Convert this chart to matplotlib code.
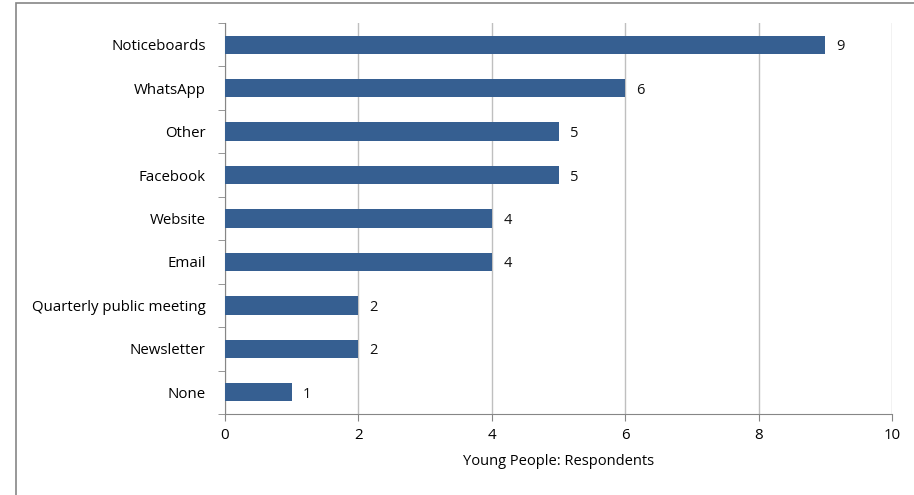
import matplotlib.pyplot as plt
import numpy as np
from matplotlib.patches import Rectangle

categories = ['Noticeboards', 'WhatsApp', 'Other', 'Facebook', 'Website',
              'Email', 'Quarterly public meeting', 'Newsletter', 'None']
values = [9, 6, 5, 5, 4, 4, 2, 2, 1]

plt.rcParams['font.family'] = ['Open Sans', 'DejaVu Sans']

fig = plt.figure(figsize=(9.14, 4.95), dpi=100)
ax = fig.add_axes([225/914, 1 - 414/495, (892 - 225)/914, (414 - 23)/495])

# outer frame like the spreadsheet chart area
fig.patches.append(Rectangle((16/914, -0.05), 1.2, 1.05 - 3/495, transform=fig.transFigure,
                             fill=False, edgecolor='#868686', linewidth=1.2))

pos = np.arange(len(categories))
ax.barh(pos, values, height=0.42, color='#365F91', zorder=3)
for p, v in zip(pos, values):
    ax.text(v + 0.17, p, str(v), va='center_baseline', ha='left', fontsize=10.5, color='#111111')

ax.set_ylim(len(categories) - 0.5, -0.5)
ax.set_xlim(0, 10)
ax.set_xticks([0, 2, 4, 6, 8, 10])
ax.set_yticks(pos)
ax.set_yticklabels(categories)
ax.set_yticks(np.arange(-0.5, len(categories), 1), minor=True)
ax.tick_params(axis='y', which='major', length=0, pad=14, labelsize=10.8)
ax.tick_params(axis='y', which='minor', length=5, color='#868686', direction='out')
ax.tick_params(axis='x', length=5, color='#868686', labelsize=10.8, pad=5)

ax.grid(axis='x', color='#BFBFBF', linewidth=1, zorder=0)
for s in ['top', 'right']:
    ax.spines[s].set_visible(False)
for s in ['left', 'bottom']:
    ax.spines[s].set_color('#868686')

ax.set_xlabel('Young People: Respondents', fontsize=10.5, labelpad=8)

plt.savefig('out.png', dpi=100)
